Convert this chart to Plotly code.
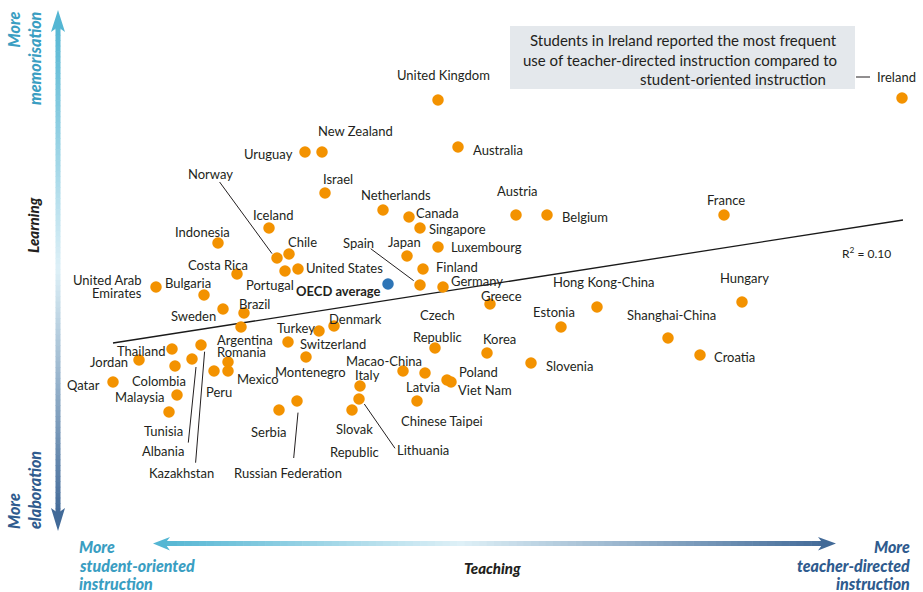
import plotly.graph_objects as go

W, H = 923, 592

# ---------------- data (index units) ----------------
countries = [
    "United Kingdom", "Ireland", "Uruguay", "New Zealand", "Australia", "Israel",
    "Netherlands", "Austria", "Belgium", "France", "Canada", "Iceland", "Singapore",
    "Indonesia", "Luxembourg", "Chile", "Norway", "Japan", "Finland", "United States",
    "Portugal", "Costa Rica", "Spain", "Germany", "United Arab Emirates", "Bulgaria",
    "Hungary", "Greece", "Hong Kong-China", "Sweden", "Brazil", "Denmark", "Argentina",
    "Estonia", "Turkey", "Shanghai-China", "Switzerland", "Kazakhstan", "Czech Republic",
    "Thailand", "Korea", "Croatia", "Montenegro", "Albania", "Jordan", "Romania",
    "Slovenia", "Colombia", "Peru", "Mexico", "Macao-China", "Latvia", "Poland",
    "Viet Nam", "Qatar", "Italy", "Malaysia", "Lithuania", "Russian Federation",
    "Chinese Taipei", "Serbia", "Slovak Republic", "Tunisia",
]
teaching = [
    0.50, 5.14, -0.83, -0.66, 0.70, -0.63,
    -0.05, 1.28, 1.59, 3.36, 0.21, -1.19, 0.32,
    -1.70, 0.50, -0.99, -1.11, 0.19, 0.35, -0.90,
    -1.03, -1.51, 0.32, 0.55, -2.32, -1.84,
    3.54, 1.02, 2.09, -1.65, -1.44, -0.54, -1.47,
    1.73, -0.69, 2.80, -1.00, -1.87, 0.47,
    -2.16, 0.99, 3.12, -0.82, -1.96, -2.49, -1.60,
    1.43, -2.13, -1.74, -1.60, 0.15, 0.37, 0.59,
    0.63, -2.75, -0.28, -2.11, -0.29, -0.91,
    0.29, -1.09, -0.36, -2.19,
]
learning = [
    1.84, 1.86, 1.32, 1.32, 1.37, 0.91,
    0.74, 0.69, 0.69, 0.69, 0.67, 0.56, 0.56,
    0.41, 0.37, 0.30, 0.26, 0.28, 0.15, 0.15,
    0.13, 0.10, -0.01, -0.03, -0.03, -0.11,
    -0.18, -0.20, -0.23, -0.25, -0.29, -0.42, -0.43,
    -0.43, -0.47, -0.54, -0.58, -0.61, -0.64,
    -0.65, -0.69, -0.71, -0.73, -0.75, -0.76, -0.78,
    -0.79, -0.82, -0.87, -0.87, -0.87, -0.89, -0.96,
    -0.98, -0.98, -1.02, -1.11, -1.15, -1.17,
    -1.17, -1.26, -1.26, -1.28,
]
oecd_label = "OECD average"
oecd_teaching = [0.00]
oecd_learning = [0.00]

trend_teaching = [-2.75, 5.15]
trend_learning = [-0.59, 0.64]
r2_text = "R<sup>2</sup> = 0.10"

note_lines = [
    "Students in Ireland reported the most frequent",
    "use of teacher-directed instruction compared to",
    "student-oriented instruction",
]
left_caption = ["More", "student-oriented", "instruction"]
right_caption = ["More", "teacher-directed", "instruction"]

# ---------------- layout helpers ----------------
XR = [-3.88, 5.35]
YR = [-3.08, 2.84]
KX = W / (XR[1] - XR[0])
KY = H / (YR[1] - YR[0])


def to_px(xd, yd):
    return (xd - XR[0]) * KX, (YR[1] - yd) * KY


def to_data(px, py):
    return XR[0] + px / KX, YR[1] - py / KY


def pxp(px):
    return px / W


def pyp(py):
    return 1 - py / H


ORANGE = "#F39200"
BLUE = "#2E75B6"
TEXT = "#231F20"
TEAL = "#3A9EC2"
DARK = "#2F5B8E"
FONT = "Lato"

# label placement: name -> list of (line text, dx px, dy px, anchor)
label_place = {
    "United Kingdom": [("United Kingdom", 5, -25, "center")],
    "Ireland": [("Ireland", -27, -21, "left")],
    "Uruguay": [("Uruguay", -10, 2, "right")],
    "New Zealand": [("New Zealand", 33, -21, "center")],
    "Australia": [("Australia", 13, 2.5, "left")],
    "Israel": [("Israel", 13, -14.5, "center")],
    "Netherlands": [("Netherlands", 13, -15.5, "center")],
    "Austria": [("Austria", 1.5, -24.5, "center")],
    "Belgium": [("Belgium", 13, 2, "left")],
    "France": [("France", 2, -15.5, "center")],
    "Canada": [("Canada", 5, -4.5, "left")],
    "Iceland": [("Iceland", 3.5, -13.5, "center")],
    "Singapore": [("Singapore", 6.5, 0.7, "left")],
    "Indonesia": [("Indonesia", -16, -11.3, "center")],
    "Luxembourg": [("Luxembourg", 10.5, 0, "left")],
    "Chile": [("Chile", 13.3, -12, "center")],
    "Norway": [("Norway", -66.7, -84, "center")],
    "Japan": [("Japan", -3, -14, "center")],
    "Finland": [("Finland", 10.5, -2, "left")],
    "United States": [("United States", 5.6, -0.7, "left")],
    "Portugal": [("Portugal", -15.3, 14, "center")],
    "Costa Rica": [("Costa Rica", -18.6, -9.3, "center")],
    "Spain": [("Spain", -62, -41.6, "center")],
    "Germany": [("Germany", 5.7, -5.6, "left")],
    "United Arab Emirates": [("United Arab", -12.3, -7.3, "right"),
                             ("Emirates", -12.3, 6.4, "right")],
    "Bulgaria": [("Bulgaria", -16, -12.3, "center")],
    "Hungary": [("Hungary", 2.2, -23.7, "center")],
    "Greece": [("Greece", 11.4, -7.7, "center")],
    "Hong Kong-China": [("Hong Kong-China", 6.5, -24.6, "center")],
    "Sweden": [("Sweden", -5.3, 7, "right")],
    "Brazil": [("Brazil", 10.3, -9.3, "center")],
    "Denmark": [("Denmark", 21.7, -7, "center")],
    "Argentina": [("Argentina", 4.2, 13.4, "center")],
    "Estonia": [("Estonia", -7, -14.6, "center")],
    "Turkey": [("Turkey", -23, -3.3, "center")],
    "Shanghai-China": [("Shanghai-China", 3.9, -23.3, "center")],
    "Switzerland": [("Switzerland", 10, 2, "left")],
    "Kazakhstan": [("Kazakhstan", -19.7, 128.3, "center")],
    "Czech Republic": [("Czech", 2.2, -33, "center"), ("Republic", 2.8, -11.4, "center")],
    "Thailand": [("Thailand", -4.8, 2.4, "right")],
    "Korea": [("Korea", 12.7, -13.7, "center")],
    "Croatia": [("Croatia", 12.3, 2.3, "left")],
    "Montenegro": [("Montenegro", 4.9, 15, "center")],
    "Albania": [("Albania", -29, 92, "center")],
    "Jordan": [("Jordan", -9, 2, "right")],
    "Romania": [("Romania", 13.6, -9.7, "center")],
    "Slovenia": [("Slovenia", 13.3, 3, "left")],
    "Colombia": [("Colombia", -15.7, 14.7, "center")],
    "Peru": [("Peru", 5.2, 20.7, "center")],
    "Mexico": [("Mexico", 6.6, 8, "left")],
    "Macao-China": [("Macao-China", -19.5, -10.3, "center")],
    "Latvia": [("Latvia", -1.6, 14.3, "center")],
    "Poland": [("Poland", 10.3, -7.7, "left")],
    "Viet Nam": [("Viet Nam", 5.3, 8.3, "left")],
    "Qatar": [("Qatar", -11, 2.7, "right")],
    "Italy": [("Italy", 7, -11, "center")],
    "Malaysia": [("Malaysia", -10, 2, "right")],
    "Lithuania": [("Lithuania", 64.3, 51.3, "center")],
    "Russian Federation": [("Russian Federation", -9.5, 72, "center")],
    "Chinese Taipei": [("Chinese Taipei", 24.8, 20, "center")],
    "Serbia": [("Serbia", -11, 22, "center")],
    "Slovak Republic": [("Slovak", 2, 19.3, "center"), ("Republic", 2.5, 41.7, "center")],
    "Tunisia": [("Tunisia", -5.4, 19, "center")],
}

# leader lines: name -> (dx0, dy0, dx1, dy1) px relative to the dot
leaders = {
    "Ireland": (-46, -21, -32, -21),
    "Norway": (-57.4, -76, -5, -4.4),
    "Spain": (-49.3, -36.3, -6.3, -4.3),
    "Albania": (4, 8, -3.7, 83.6),
    "Kazakhstan": (3.6, 6.7, -5.4, 117.7),
    "Lithuania": (5.3, 5, 36, 49.3),
    "Russian Federation": (1, 11.6, -3.3, 57),
}

fig = go.Figure()

# trend line
fig.add_trace(go.Scatter(
    x=trend_teaching, y=trend_learning, mode="lines",
    line=dict(color="#1A1A1A", width=1.3), hoverinfo="skip",
))

# countries
fig.add_trace(go.Scatter(
    x=teaching, y=learning, mode="markers", text=countries,
    marker=dict(size=11.5, color=ORANGE, line=dict(width=0)),
    hovertemplate="%{text}<extra></extra>",
))
# OECD average
fig.add_trace(go.Scatter(
    x=oecd_teaching, y=oecd_learning, mode="markers", text=[oecd_label],
    marker=dict(size=11.5, color=BLUE, line=dict(width=0)),
    hovertemplate="%{text}<extra></extra>",
))

annotations = []
shapes = []

for name, xv, yv in zip(countries, teaching, learning):
    for txt, dx, dy, anc in label_place.get(name, []):
        annotations.append(dict(
            x=xv, y=yv, xref="x", yref="y", text=txt, showarrow=False,
            xanchor=anc, yanchor="middle", xshift=dx, yshift=-dy,
            font=dict(family=FONT, size=13, color=TEXT),
        ))
    if name in leaders:
        dx0, dy0, dx1, dy1 = leaders[name]
        px0, py0 = to_px(xv, yv)
        x0, y0 = to_data(px0 + dx0, py0 + dy0)
        x1, y1 = to_data(px0 + dx1, py0 + dy1)
        shapes.append(dict(type="line", xref="x", yref="y", x0=x0, y0=y0, x1=x1, y1=y1,
                           line=dict(color=TEXT, width=1)))

annotations.append(dict(
    x=oecd_teaching[0], y=oecd_learning[0], xref="x", yref="y", text="<b>OECD average</b>",
    showarrow=False, xanchor="right", yanchor="middle", xshift=-5, yshift=-6.7,
    font=dict(family=FONT, size=13, color=TEXT),
))

# R2 label
annotations.append(dict(x=pxp(866), y=pyp(253), xref="paper", yref="paper", text=r2_text,
                        showarrow=False, xanchor="center", yanchor="middle",
                        font=dict(family=FONT, size=12, color=TEXT)))

# note box
shapes.append(dict(type="rect", xref="paper", yref="paper", x0=pxp(510), x1=pxp(855),
                   y0=pyp(89), y1=pyp(26), fillcolor="#E4E8EC", line=dict(width=0), layer="below"))
note_y = [40, 59.5, 79]
note_right = [839, 839, 828]
for t, yy, xr in zip(note_lines, note_y, note_right):
    annotations.append(dict(x=pxp(xr), y=pyp(yy), xref="paper", yref="paper", text=t,
                            showarrow=False, xanchor="right", yanchor="middle",
                            font=dict(family=FONT, size=15, color=TEXT)))


# gradient arrows
def lerp(c1, c2, t):
    return tuple(round(a + (b - a) * t) for a, b in zip(c1, c2))


def grad_color(stops, t):
    for (t0, c0), (t1, c1) in zip(stops[:-1], stops[1:]):
        if t0 <= t <= t1:
            return "rgb(%d,%d,%d)" % lerp(c0, c1, (t - t0) / (t1 - t0))
    return "rgb(%d,%d,%d)" % stops[-1][1]


C_TEAL = (84, 182, 211)
C_PALE = (222, 240, 247)
C_DARK = (66, 106, 152)

N = 90
# vertical arrow shaft
vx, vtop, vbot = 58, 24, 514
vstops = [(0.0, C_TEAL), (0.5, C_PALE), (1.0, C_DARK)]
for i in range(N):
    a = vtop + (vbot - vtop) * i / N
    b = vtop + (vbot - vtop) * (i + 1) / N + 0.6
    shapes.append(dict(type="line", xref="paper", yref="paper", x0=pxp(vx), x1=pxp(vx),
                       y0=pyp(a), y1=pyp(b), line=dict(color=grad_color(vstops, (i + 0.5) / N), width=5)))
# horizontal arrow shaft
hy, hl, hr = 543.5, 162, 826
hstops = [(0.0, C_TEAL), (0.45, C_PALE), (1.0, C_DARK)]
for i in range(N):
    a = hl + (hr - hl) * i / N
    b = hl + (hr - hl) * (i + 1) / N + 0.6
    shapes.append(dict(type="line", xref="paper", yref="paper", x0=pxp(a), x1=pxp(b),
                       y0=pyp(hy), y1=pyp(hy), line=dict(color=grad_color(hstops, (i + 0.5) / N), width=5)))


def path(points):
    return "M " + " L ".join("%f,%f" % (pxp(x), pyp(y)) for x, y in points) + " Z"


heads = [
    ([(51, 32), (58, 10), (65, 32), (58, 27)], "rgb(84,182,211)"),
    ([(51, 508), (58, 531), (65, 508), (58, 513)], "rgb(66,106,152)"),
    ([(170, 537), (153, 543.5), (170, 550.5), (165, 543.5)], "rgb(84,182,211)"),
    ([(818, 537), (836, 543.5), (818, 550.5), (823, 543.5)], "rgb(66,106,152)"),
]
for pts, col in heads:
    shapes.append(dict(type="path", xref="paper", yref="paper", path=path(pts),
                       fillcolor=col, line=dict(width=0)))

# axis captions
BI = dict(family=FONT, size=16, weight=900, style="italic")
annotations += [
    dict(x=pxp(24), y=pyp(58), xref="paper", yref="paper", text="More<br>memorisation",
         textangle=-90, align="right", showarrow=False, xanchor="center", yanchor="middle",
         font=dict(BI, color=TEAL)),
    dict(x=pxp(33), y=pyp(225), xref="paper", yref="paper", text="Learning",
         textangle=-90, showarrow=False, xanchor="center", yanchor="middle",
         font=dict(BI, color=TEXT, size=15)),
    dict(x=pxp(24), y=pyp(490), xref="paper", yref="paper", text="More<br>elaboration",
         textangle=-90, align="left", showarrow=False, xanchor="center", yanchor="middle",
         font=dict(BI, color=DARK)),
    dict(x=pxp(492), y=pyp(568), xref="paper", yref="paper", text="Teaching",
         showarrow=False, xanchor="center", yanchor="middle", font=dict(BI, color=TEXT, size=15)),
]
cap_y = [546, 565.5, 583.5]
for t, yy in zip(left_caption, cap_y):
    annotations.append(dict(x=pxp(77), y=pyp(yy), xref="paper", yref="paper", text=t,
                            showarrow=False, xanchor="left", yanchor="middle",
                            font=dict(BI, color=TEAL)))
for t, yy in zip(right_caption, cap_y):
    annotations.append(dict(x=pxp(912), y=pyp(yy), xref="paper", yref="paper", text=t,
                            showarrow=False, xanchor="right", yanchor="middle",
                            font=dict(BI, color=DARK)))

fig.update_layout(
    width=W, height=H, margin=dict(l=0, r=0, t=0, b=0, pad=0),
    paper_bgcolor="white", plot_bgcolor="white", showlegend=False,
    xaxis=dict(range=XR, visible=False, fixedrange=True),
    yaxis=dict(range=YR, visible=False, fixedrange=True),
    annotations=annotations, shapes=shapes,
    font=dict(family=FONT, color=TEXT),
)

fig.write_html(
    "out.html",
    config={"displayModeBar": False},
    post_script="document.body.style.margin='0';document.body.style.overflow='hidden';",
)
